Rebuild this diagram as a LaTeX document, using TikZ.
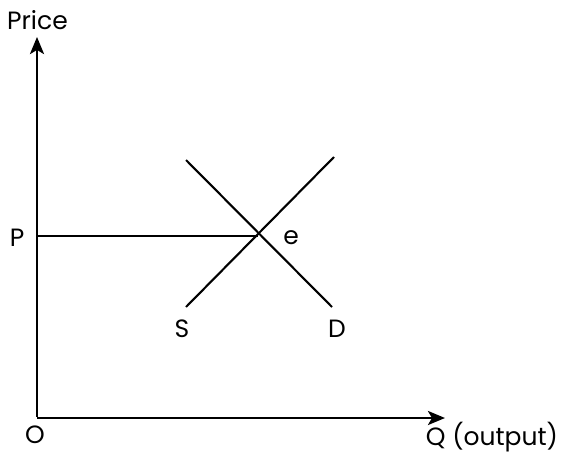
\documentclass[tikz,border=0pt]{standalone}
\usepackage{fontspec}
\setmainfont{Poppins}
\usetikzlibrary{arrows.meta}
\begin{document}
\begin{tikzpicture}[x=1pt,y=-1pt,
  axis/.style={line width=2.6pt,-{Stealth[length=17pt,width=14pt,inset=4pt]}},
  curve/.style={line width=2.1pt},
  lbl/.style={font=\fontsize{25}{29}\selectfont, inner sep=0pt, anchor=base}]
\useasboundingbox (0,0) rectangle (562,455);
\coordinate (O) at (37,418);
\coordinate (ytip) at (37,37);
\coordinate (xtip) at (445,418);
\coordinate (Pax) at (37,236);
\coordinate (E) at (258,236);
\coordinate (S1) at (186,307);
\coordinate (S2) at (334,157);
\coordinate (D1) at (186,160);
\coordinate (D2) at (332,307);
\draw[axis] ([yshift=1.3pt]O) -- (ytip);
\draw[axis] (O) -- (xtip);
\draw[curve] (Pax) -- (E);
\draw[curve] (S1) -- (S2);
\draw[curve] (D1) -- (D2);
\node[lbl] (price) at (37.5,29) {Price};
\node[lbl] (p) at (17,246) {P};
\node[lbl] (e) at (291,244) {e};
\node[lbl] (s) at (182,337) {S};
\node[lbl] (d) at (337,337) {D};
\node[lbl] (o) at (35,443) {O};
\node[lbl] (q) at (492,445) {Q (output)};
\end{tikzpicture}
\end{document}
